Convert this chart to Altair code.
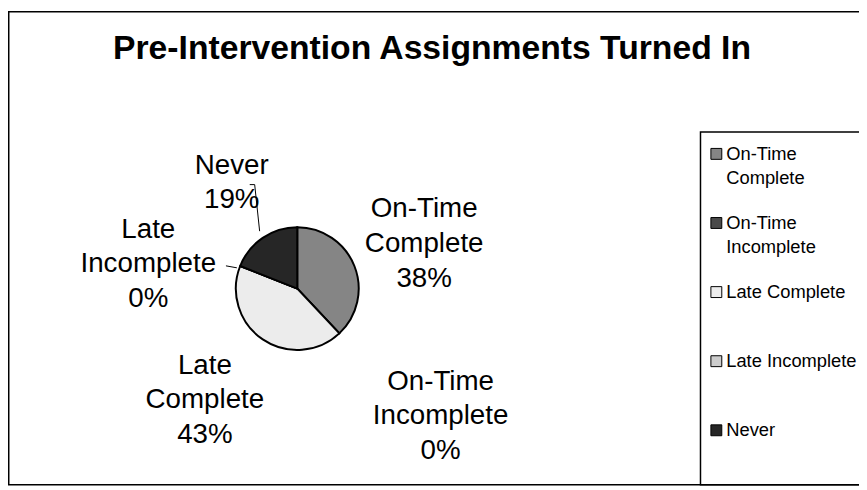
import altair as alt
import pandas as pd

# ---- data ----
categories = ["On-Time Complete", "On-Time Incomplete", "Late Complete", "Late Incomplete", "Never"]
percents = [38, 0, 43, 0, 19]
pie_names = ["On-Time\nComplete", "On-Time\nIncomplete", "Late\nComplete", "Late\nIncomplete", "Never"]
legend_names = ["On-Time\nComplete", "On-Time\nIncomplete", "Late Complete", "Late Incomplete", "Never"]
fills = ["#858585", "#4a4a4a", "#ececec", "#cccccc", "#262626"]
title_text = "Pre-Intervention Assignments Turned In"

df = pd.DataFrame({
    "category": categories,
    "value": percents,
    "pie_name": pie_names,
    "legend_name": legend_names,
})

# ---- layout / style ----
W, H = 859, 480
CX, CY = 292, 281
R = 62
FONT = "Liberation Sans"
FS = 28
LH = 35
LEG_FS = 18.5
LEG_LH = 24
# per-label placement (radius from centre, fine offsets)
label_place = {
    "On-Time Complete": (141, -3, -28),
    "On-Time Incomplete": (166, 31, -27),
    "Late Complete": (157, -5, -52),
    "Late Incomplete": (151, -10, -4),
    "Never": (155, 21, 4),
}

base = alt.Chart(df).transform_window(idx="row_number()").transform_calculate(
    label="datum.pie_name + '\\n' + datum.value + '%'"
)

color = alt.Color("category:N", scale=alt.Scale(domain=categories, range=fills), legend=None)
theta = alt.Theta("value:Q", stack=True)
order = alt.Order("idx:Q")

pie = base.mark_arc(radius=R, stroke="black", strokeWidth=2).encode(
    theta=theta, color=color, order=order, x=alt.value(CX), y=alt.value(CY)
)

label_layers = []
for cat in categories:
    r, ddx, ddy = label_place[cat]
    lyr = base.transform_calculate(
        t=f"datum.category == '{cat}' ? datum.label : ''"
    ).mark_text(
        radius=r, dx=ddx, dy=ddy, font=FONT, fontSize=FS, lineBreak="\n",
        lineHeight=LH, align="center", baseline="middle", color="black"
    ).encode(theta=theta, order=order, text="t:N", x=alt.value(CX), y=alt.value(CY))
    label_layers.append(lyr)

dummy = alt.Chart(pd.DataFrame({"k": [0]}))

# leader lines
leader1 = dummy.mark_rule(color="black", strokeWidth=1).encode(
    x=alt.value(249), y=alt.value(176), x2=alt.value(254), y2=alt.value(223))
leader1b = dummy.mark_rule(color="black", strokeWidth=1).encode(
    x=alt.value(244), y=alt.value(176), x2=alt.value(249), y2=alt.value(176))
leader2 = dummy.mark_rule(color="black", strokeWidth=1).encode(
    x=alt.value(220), y=alt.value(258), x2=alt.value(231), y2=alt.value(260))

# outer frame (right side lies beyond the visible area)
frame = dummy.mark_rect(filled=False, stroke="black", strokeWidth=1.5).encode(
    x=alt.value(0.75), y=alt.value(1.5), x2=alt.value(W + 40), y2=alt.value(H - 1))

# legend box
legbox = dummy.mark_rect(filled=False, stroke="black", strokeWidth=1.5).encode(
    x=alt.value(699), y=alt.value(123), x2=alt.value(W + 40), y2=alt.value(H - 1))

leg_y = alt.Y("category:N", scale=alt.Scale(domain=categories, range=[145, 424], padding=0), axis=None)

leg_sym = base.mark_square(size=121, stroke="black", strokeWidth=1, opacity=1, filled=True).encode(
    x=alt.value(715), y=leg_y, color=color)
leg_txt = base.mark_text(
    font=FONT, fontSize=LEG_FS, lineBreak="\n", lineHeight=LEG_LH, align="left",
    baseline="middle", color="black"
).encode(x=alt.value(725), y=leg_y, text="legend_name:N")

title = dummy.mark_text(
    font=FONT, fontSize=34, fontWeight="bold", align="center", baseline="middle", color="black"
).encode(x=alt.value(428), y=alt.value(39), text=alt.value(title_text))

chart = alt.layer(
    frame, legbox, pie, *label_layers, leader1, leader1b, leader2, leg_sym, leg_txt, title
).properties(
    width=W, height=H, padding=0, autosize=alt.AutoSizeParams(type="none"),
    background="white"
).configure_view(stroke=None)

chart.save("out.html", embed_options={"renderer": "svg", "actions": False})
